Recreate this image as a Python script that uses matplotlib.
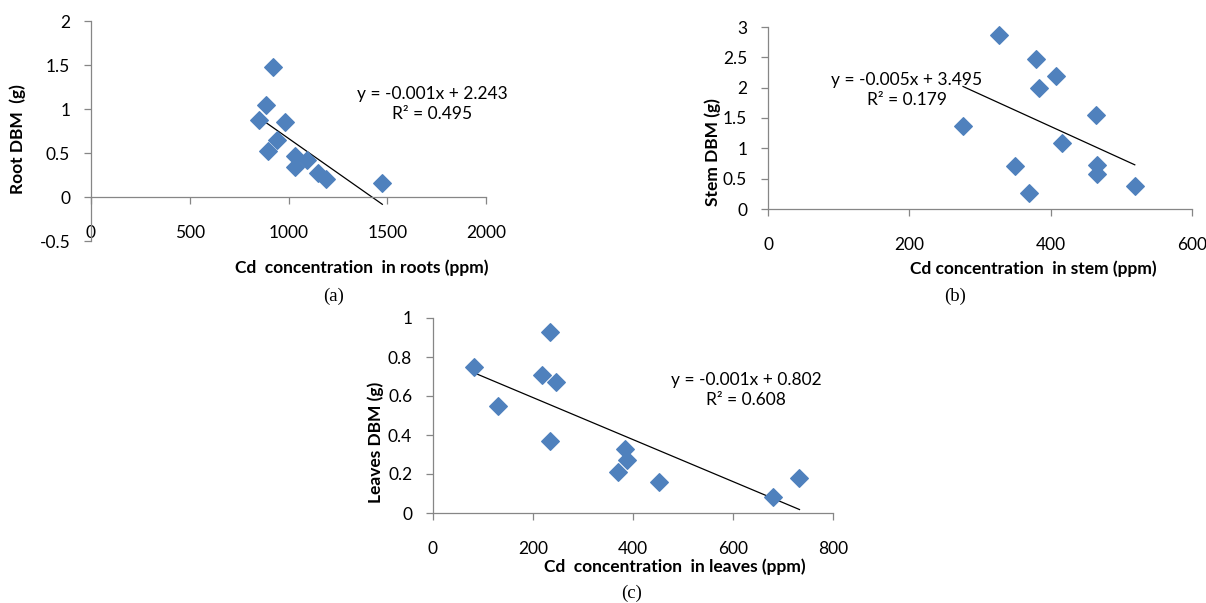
import numpy as np
import matplotlib
matplotlib.use("Agg")
import matplotlib.pyplot as plt

plt.rcParams['font.family'] = ['Lato', 'DejaVu Sans']

# (a) roots
root_cd = [921, 884, 852, 982, 940, 895, 1034, 1031, 1095, 1151, 1190, 1475]
root_dbm = [1.48, 1.04, 0.88, 0.85, 0.65, 0.52, 0.47, 0.34, 0.42, 0.27, 0.20, 0.16]
# (b) stem
stem_cd = [327, 379, 407, 383, 276, 464, 416, 350, 466, 465, 370, 519]
stem_dbm = [2.87, 2.48, 2.19, 2.00, 1.37, 1.55, 1.08, 0.71, 0.73, 0.58, 0.27, 0.38]
# (c) leaves
leaf_cd = [83, 234, 218, 247, 131, 234, 384, 389, 371, 453, 680, 733]
leaf_dbm = [0.75, 0.93, 0.71, 0.67, 0.55, 0.37, 0.33, 0.27, 0.21, 0.16, 0.08, 0.18]

eq_text = ["y = -0.001x + 2.243\nR² = 0.495",
           "y = -0.005x + 3.495\nR² = 0.179",
           "y = -0.001x + 0.802\nR² = 0.608"]
xlabels = ["Cd  concentration  in roots (ppm)",
           "Cd concentration  in stem (ppm)",
           "Cd  concentration  in leaves (ppm)"]
ylabels = ["Root DBM  (g)", "Stem DBM (g)", "Leaves DBM (g)"]
captions = ["(a)", "(b)", "(c)"]

W, H = 1206, 603
BLUE = "#4F81BD"
GREY = "#868686"


def px_rect(l, r, t, b):
    return [l / W, 1 - b / H, (r - l) / W, (b - t) / H]


def fx(x, y):
    return x / W, 1 - y / H


fig = plt.figure(figsize=(W / 100, H / 100), dpi=100)

panels = [
    dict(x=root_cd, y=root_dbm, rect=(91, 486, 21, 241), xlim=(0, 2000), ylim=(-0.5, 2),
         xt=[0, 500, 1000, 1500, 2000], yt=[-0.5, 0, 0.5, 1, 1.5, 2],
         ylab=["-0.5", "0", "0.5", "1", "1.5", "2"],
         xl=(362, 268), yl=(18, 139), cap=(334, 296), eq=(432, 104)),
    dict(x=stem_cd, y=stem_dbm, rect=(768, 1192, 27, 209), xlim=(0, 600), ylim=(0, 3),
         xt=[0, 200, 400, 600], yt=[0, 0.5, 1, 1.5, 2, 2.5, 3],
         ylab=["0", "0.5", "1", "1.5", "2", "2.5", "3"],
         xl=(1033, 269), yl=(713, 152), cap=(955, 296), eq=(907, 90)),
    dict(x=leaf_cd, y=leaf_dbm, rect=(433, 833, 318, 513), xlim=(0, 800), ylim=(0, 1),
         xt=[0, 200, 400, 600, 800], yt=[0, 0.2, 0.4, 0.6, 0.8, 1],
         ylab=["0", "0.2", "0.4", "0.6", "0.8", "1"],
         xl=(675, 567), yl=(376, 442), cap=(632, 593), eq=(746, 390)),
]

for i, p in enumerate(panels):
    ax = fig.add_axes(px_rect(*p['rect']))
    ax.set_xlim(*p['xlim'])
    ax.set_ylim(*p['ylim'])
    ax.set_xticks(p['xt'])
    ax.set_xticklabels([str(v) for v in p['xt']])
    ax.set_yticks(p['yt'])
    ax.set_yticklabels(p['ylab'])
    for s in ['top', 'right']:
        ax.spines[s].set_visible(False)
    for s in ['left', 'bottom']:
        ax.spines[s].set_color(GREY)
        ax.spines[s].set_linewidth(0.9)
    ax.spines['bottom'].set_position(('data', 0))
    ax.tick_params(axis='both', colors=GREY, labelcolor='black', labelsize=12.5,
                   length=5, width=0.9, direction='out')
    ax.tick_params(axis='x', pad=15)
    ax.tick_params(axis='y', pad=10)
    ax.patch.set_visible(False)

    x = np.array(p['x'])
    y = np.array(p['y'])
    ax.scatter(x, y, marker='D', s=80, color=BLUE, edgecolors=BLUE, zorder=3, clip_on=False)
    m, c = np.polyfit(x, y, 1)
    xs = np.array([x.min(), x.max()])
    ax.plot(xs, m * xs + c, color='black', lw=0.9, zorder=2, clip_on=False)

    fig.text(*fx(*p['xl']), xlabels[i], ha='center', va='center', fontsize=12.5, fontweight='bold')
    fig.text(*fx(*p['yl']), ylabels[i], ha='center', va='center', fontsize=12.5, fontweight='bold',
             rotation=90)
    fig.text(*fx(*p['cap']), captions[i], ha='center', va='center', fontsize=13.5,
             family=['Liberation Serif', 'DejaVu Serif'])
    fig.text(*fx(*p['eq']), eq_text[i], ha='center', va='center', fontsize=12.5,
             linespacing=1.25)

fig.savefig("out.png", dpi=100)
